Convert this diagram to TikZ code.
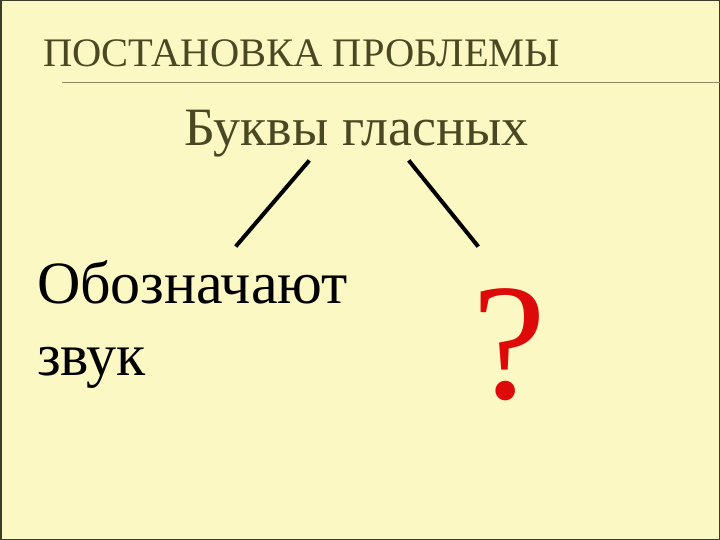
\documentclass[tikz,border=0pt]{standalone}
\usepackage{fontspec}
\setmainfont{Liberation Serif}
\begin{document}
\begin{tikzpicture}[x=1pt,y=-1pt,line cap=rect]
\useasboundingbox (0,0) rectangle (720,540);
\definecolor{custcol_bg}{RGB}{251, 248, 196}
\definecolor{custcol_olive}{RGB}{74, 72, 34}
\definecolor{custcol_rule}{RGB}{140, 138, 100}
\definecolor{custcol_frame}{RGB}{60, 60, 40}
\definecolor{custcol_red}{RGB}{222, 10, 10}
\tikzset{lbl/.style={inner sep=0, outer sep=0, anchor=base west}}
\fill [custcol_bg] (0,0) rectangle (720,540);
\draw [line width=1.5pt, custcol_frame] (0.75,0.75) rectangle (719.25,539.25);
\draw [line width=1.0pt, custcol_rule] (62,83) -- (720,83);
\node[lbl, custcol_olive] (title) at (43,67) {\fontsize{40.5pt}{40.5pt}\selectfont ПОСТАНОВКА ПРОБЛЕМЫ};
\node[lbl, custcol_olive] (vowels) at (184,146) {\fontsize{54pt}{54pt}\selectfont Буквы гласных};
\node[lbl, black] (sound) at (37,303) {\fontsize{60pt}{60pt}\selectfont Обозначают};
\node[lbl, black] (sound2) at (37,375) {\fontsize{60pt}{60pt}\selectfont звук};
\node[lbl, custcol_red] (ask) at (472,398) {\fontsize{166pt}{166pt}\selectfont ?};
\coordinate (vowelsL) at (308,162);
\coordinate (vowelsR) at (410,162);
\coordinate (soundtop) at (237,245);
\coordinate (asktop) at (477,245);
\draw [line width=4.0pt, black] (vowelsL) -- (soundtop);
\draw [line width=4.0pt, black] (vowelsR) -- (asktop);
\end{tikzpicture}
\end{document}
